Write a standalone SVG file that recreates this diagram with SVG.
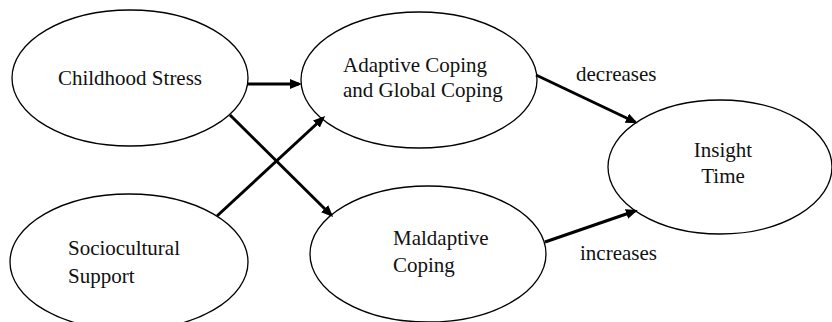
<svg xmlns="http://www.w3.org/2000/svg" width="832" height="322" viewBox="0 0 832 322" font-family="'Liberation Serif', 'Times New Roman', 'DejaVu Serif', serif">
<style>
.node ellipse{fill:#fff;stroke:#000;stroke-width:1.3}
text{font-family:'Liberation Serif','Times New Roman','DejaVu Serif',serif;font-size:21px;fill:#111}
.c{text-anchor:middle}
.edge{stroke:#000;stroke-width:3;fill:none}
</style>
<defs>
<marker id="ah" markerUnits="userSpaceOnUse" markerWidth="13" markerHeight="11" refX="9" refY="5" orient="auto">
<path d="M0,0 L12,5 L0,10 z" fill="#000"/>
</marker>
</defs>
<rect width="832" height="322" fill="#fff"/>
<g id="childhood-stress" class="node">
<ellipse cx="130" cy="78" rx="118" ry="68"/>
<text class="c" x="130" y="85">Childhood Stress</text>
</g>
<g id="sociocultural-support" class="node">
<ellipse cx="129" cy="262" rx="119" ry="68"/>
<text x="68" y="255">Sociocultural</text>
<text x="68" y="283">Support</text>
</g>
<g id="adaptive-coping" class="node">
<ellipse cx="419" cy="80" rx="118" ry="68"/>
<text x="343" y="72">Adaptive Coping</text>
<text x="343" y="97">and Global Coping</text>
</g>
<g id="maladaptive-coping" class="node">
<ellipse cx="428" cy="254" rx="118" ry="68"/>
<text x="393" y="245">Maldaptive</text>
<text x="393" y="272">Coping</text>
</g>
<g id="insight-time" class="node">
<ellipse cx="720" cy="167" rx="112" ry="67"/>
<text class="c" x="723" y="157">Insight</text>
<text class="c" x="723" y="183">Time</text>
</g>
<g id="connectors">
<line class="edge" x1="247" y1="84" x2="299" y2="84" marker-end="url(#ah)"/>
<line class="edge" x1="230" y1="115" x2="331" y2="215" marker-end="url(#ah)"/>
<line class="edge" x1="217" y1="216" x2="323" y2="118" marker-end="url(#ah)"/>
<line class="edge" x1="536" y1="75" x2="635" y2="122" marker-end="url(#ah)"/>
<line class="edge" x1="545" y1="242" x2="635" y2="211" marker-end="url(#ah)"/>
<text x="576" y="81">decreases</text>
<text x="580" y="260">increases</text>
</g>
</svg>
